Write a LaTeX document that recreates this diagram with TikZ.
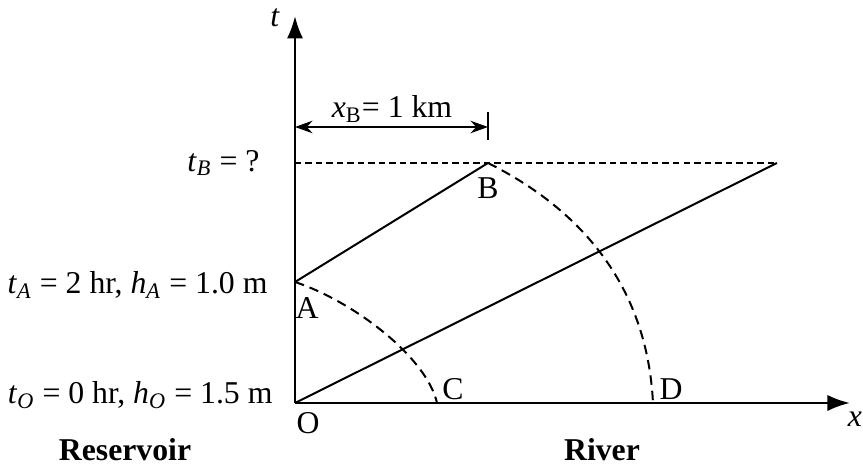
\documentclass[tikz,border=0pt]{standalone}
\usepackage{fontspec}
\setmainfont{Liberation Serif}
\usetikzlibrary{arrows.meta,positioning}
\newcommand{\vsub}[2]{\textit{#1}\textsubscript{\textit{#2}}}
\begin{document}
\begin{tikzpicture}[x=0.4pt,y=0.4pt,font=\fontsize{12.7}{15}\selectfont,
  every node/.style={inner sep=0pt},
  axis/.style={line width=1pt,-{Latex[length=9pt,width=6.5pt]}},
  charline/.style={line width=0.8pt},
  wavefront/.style={line width=0.8pt,dash pattern=on 3.8pt off 2.4pt},
  level/.style={line width=0.8pt,dash pattern=on 2.6pt off 1.6pt}]
\useasboundingbox (-295,-63) rectangle (568,403);

\coordinate (O) at (0,0);
\coordinate (A) at (0,121);
\coordinate (B) at (193,240);
\coordinate (C) at (142,0);
\coordinate (D) at (358,0);
\coordinate (E) at (482,240);
\coordinate (T) at (0,387);
\coordinate (X) at (555,0);
\coordinate (L) at (0,276);
\coordinate (R) at (193,276);

\draw[axis] (O) -- (T);
\draw[axis] (O) -- (X);
\node at (-20,385) {\textit{t}};
\node at (560,-16) {\textit{x}};

\draw[charline] (O) -- (E);
\draw[charline] (A) -- (B);
\draw[level] (0,240) -- (E);

\draw[wavefront] (A) .. controls (60,101) and (132,45) .. (C);
\draw[wavefront] (B) .. controls (283,195) and (352,120) .. (D);

% dimension
\draw[line width=0.8pt,{Stealth[length=7pt,width=5pt]}-{Stealth[length=7pt,width=5pt]}] (L) -- (R);
\draw[line width=0.8pt] (193,263) -- (193,291);
\node at (97,294) {\textit{x}\textsubscript{B}= 1 km};

\node[anchor=east] at (-35,240) {\vsub{t}{B} = ?};
\node[anchor=east] at (-27,118) {\vsub{t}{A} = 2 hr, \vsub{h}{A} = 1.0 m};
\node[anchor=east] at (-22,8) {\vsub{t}{O} = 0 hr, \vsub{h}{O} = 1.5 m};

\node at (12,95) {A};
\node at (193,215) {B};
\node at (158,14) {C};
\node at (376,14) {D};
\node at (13,-20) {O};

\node[font=\fontsize{12.7}{15}\selectfont\bfseries] at (-170,-47) {Reservoir};
\node[font=\fontsize{12.7}{15}\selectfont\bfseries] at (307,-47) {River};
\end{tikzpicture}
\end{document}
